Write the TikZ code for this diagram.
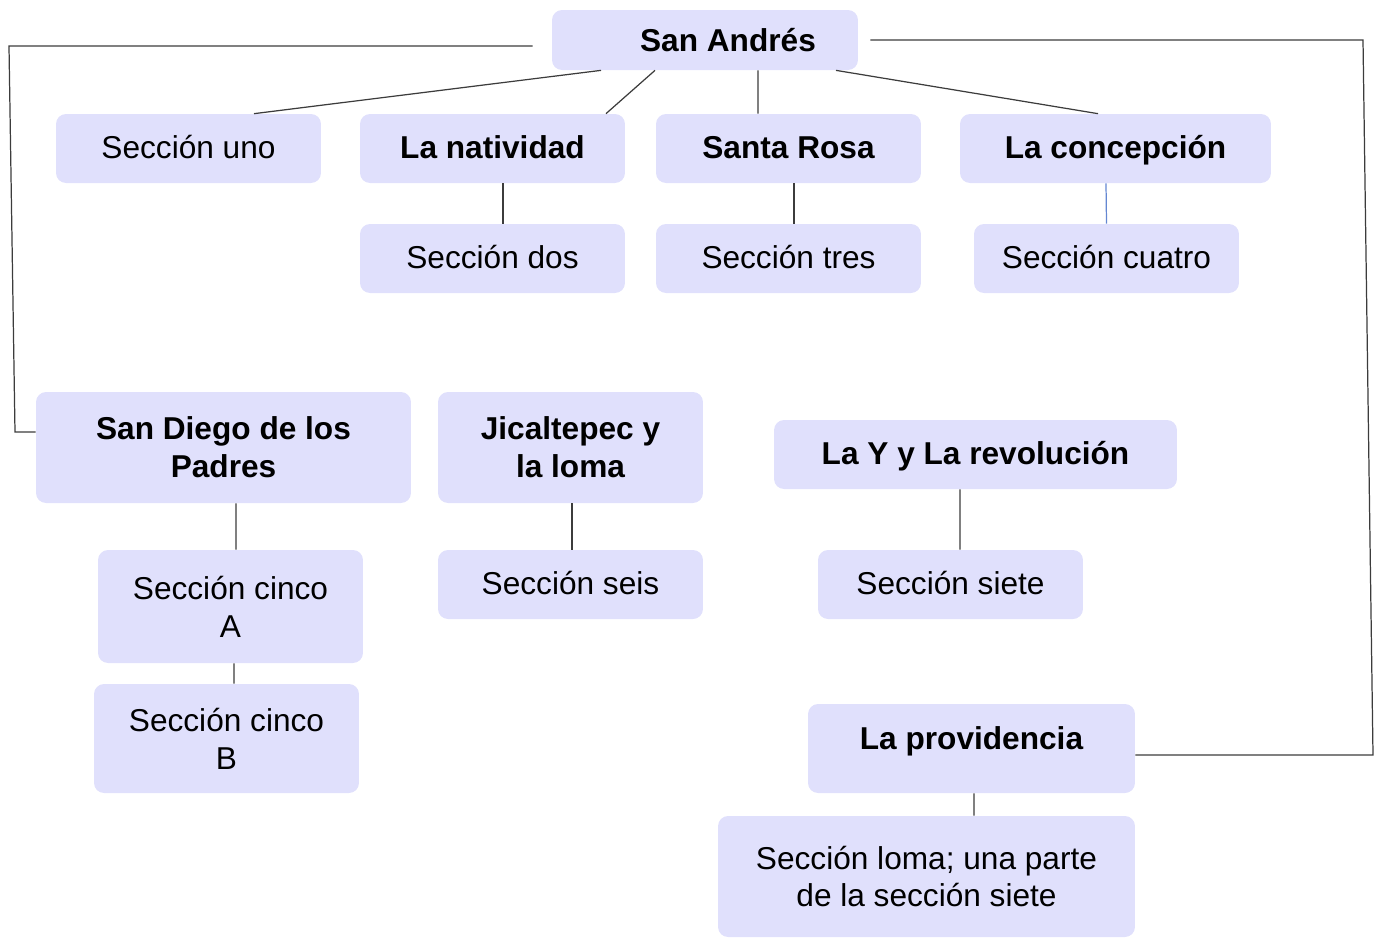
\documentclass[tikz,border=0pt]{standalone}
\usepackage{fontspec}
\setmainfont{Liberation Sans}
\definecolor{boxfill}{RGB}{224,224,252}
\definecolor{linegray}{RGB}{60,60,60}
\definecolor{lineblue}{RGB}{100,135,210}

\begin{document}
\begin{tikzpicture}[x=0.02cm, y=-0.02cm,
  box/.style={rounded corners=0.2cm, fill=boxfill, inner sep=0pt, align=center, font=\fontsize{18}{21.6}\selectfont},
  sbox/.style={box, minimum width=5.3cm, minimum height=1.38cm, text height=0.53cm, text depth=0.13cm},
  bold/.style={font=\fontsize{18}{21.6}\selectfont\bfseries},
  link/.style={draw=linegray, line width=0.7pt}]
\useasboundingbox (0,0) rectangle (1376,938);

\node (sa) at (705,40) [box, bold, minimum width=6.12cm, minimum height=1.2cm] {\hspace*{0.92cm}San Andrés};
\node (s1) at (188.5,148.5) [sbox] {Sección uno};
\node (nat) at (492.5,148.5) [sbox, bold] {La natividad};
\node (sr) at (788.5,148.5) [sbox, bold] {Santa Rosa};
\node (con) at (1115.5,148.5) [sbox, bold, minimum width=6.22cm] {La concepción};
\node (s2) at (492.5,258.5) [sbox] {Sección dos};
\node (s3) at (788.5,258.5) [sbox] {Sección tres};
\node (s4) at (1106.5,258.5) [sbox] {Sección cuatro};

\node (sd) at (223.5,447.5) [box, bold, minimum width=7.5cm, minimum height=2.22cm] {San Diego de los\\Padres};
\node (jic) at (570.5,447.5) [box, bold, minimum width=5.3cm, minimum height=2.22cm] {Jicaltepec y\\la loma};
\node (ly) at (975.5,454.5) [sbox, bold, minimum width=8.06cm] {La Y y La revolución};
\node (s5a) at (230.5,606.5) [box, minimum width=5.3cm, minimum height=2.26cm] {Sección cinco\\A};
\node (s5b) at (226.5,738.5) [box, minimum width=5.3cm, minimum height=2.18cm] {Sección cinco\\B};
\node (s6) at (570.5,584.5) [sbox] {Sección seis};
\node (s7) at (950.5,584.5) [sbox] {Sección siete};
\node (pro) at (971.5,748.5) [box, bold, minimum width=6.54cm, minimum height=1.78cm, text height=0.53cm, text depth=0.49cm] {La providencia};
\node (loma) at (926.5,876.5) [box, minimum width=8.34cm, minimum height=2.42cm] {Sección loma; una parte\\de la sección siete};

\draw[link] ([xshift=-2.08cm]sa.south) -- ([xshift=1.31cm]s1.north);
\draw[link] ([xshift=-1.0cm]sa.south) -- ([xshift=2.27cm]nat.north);
\draw[link] ([xshift=1.06cm]sa.south) -- ([xshift=-0.61cm]sr.north);
\draw[link] ([xshift=2.62cm]sa.south) -- ([xshift=-0.35cm]con.north);
\draw[link] ([xshift=0.21cm]nat.south) -- ([xshift=0.21cm]s2.north);
\draw[link] ([xshift=0.11cm]sr.south) -- ([xshift=0.11cm]s3.north);
\draw[draw=lineblue, line width=0.7pt] ([xshift=-0.19cm]con.south) -- (s4.north);
\draw[link] ([xshift=0.25cm]sd.south) -- ([xshift=0.11cm]s5a.north);
\draw[link] ([xshift=0.07cm]s5a.south) -- ([xshift=0.15cm]s5b.north);
\draw[link] ([xshift=0.03cm]jic.south) -- ([xshift=0.03cm]s6.north);
\draw[link] ([xshift=-0.31cm]ly.south) -- ([xshift=0.19cm]s7.north);
\draw[link] ([xshift=0.05cm]pro.south) -- ([xshift=0.95cm]loma.north);

\draw[link] ([xshift=-0.38cm,yshift=-0.12cm]sa.west) -- (9,46) -- (15,432) -- ([yshift=0.31cm]sd.west);
\draw[link] ([xshift=0.24cm]sa.east) -- (1363,40) -- (1373,755) -- ([yshift=-0.13cm]pro.east);
\end{tikzpicture}
\end{document}
